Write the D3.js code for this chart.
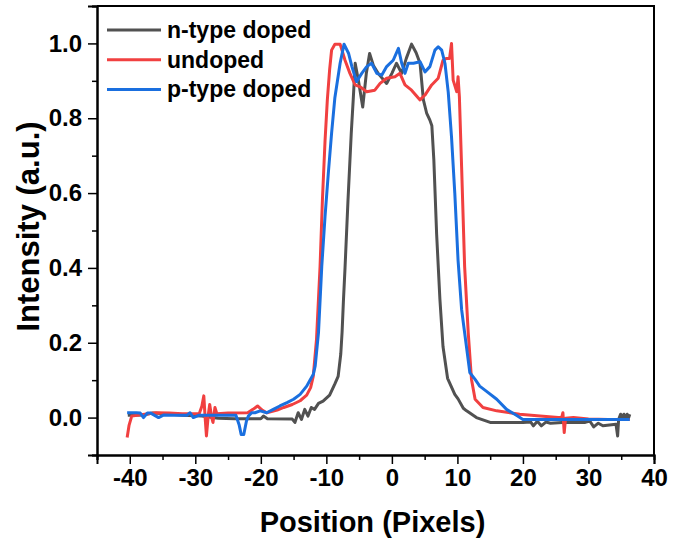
<!DOCTYPE html>
<html>
<head>
<meta charset="utf-8">
<script src="https://cdn.jsdelivr.net/npm/d3@7"></script>
<style>
  body { margin: 0; background: #fff; }
  text { font-family: "Liberation Sans", Arial, sans-serif; font-weight: bold; }
</style>
</head>
<body>
<svg id="chart" width="686" height="544"></svg>
<script>
// Line profiles: [position, intensity]
const nType = [
  [-40.3, 0.006], [-38, 0.007], [-36.5, 0.012], [-34.5, 0.01], [-32, 0.006], [-29, 0.004],
  [-26.5, -0.002], [-24, -0.003], [-20, -0.003], [-19.6, 0.004], [-19, -0.003], [-15.2, -0.004],
  [-14.8, -0.013], [-14.3, 0.013], [-13.8, -0.005], [-13.3, 0.022], [-12.8, 0.004], [-12.3, 0.027],
  [-11.8, 0.022], [-11.2, 0.038], [-10.5, 0.044], [-9.5, 0.06], [-8.7, 0.09], [-8.2, 0.11],
  [-7.8, 0.17], [-7.6, 0.228], [-7.4, 0.31], [-7.15, 0.40], [-6.7, 0.58], [-6.2, 0.76], [-5.9, 0.85],
  [-5.6, 0.947], [-5.1, 0.90], [-4.45, 0.83], [-3.9, 0.92], [-3.4, 0.973], [-2.8, 0.94], [-2.1, 0.92],
  [-0.8, 0.893], [0.0, 0.92], [0.7, 0.947], [1.5, 0.92], [2.2, 0.96], [3.0, 0.998], [3.7, 0.975],
  [4.3, 0.947], [4.8, 0.85], [5.3, 0.814], [5.8, 0.795], [6.1, 0.78], [6.4, 0.69], [6.83, 0.49],
  [7.33, 0.316], [7.8, 0.19], [8.5, 0.105], [9.6, 0.062], [10.1, 0.05], [10.9, 0.025], [11.4, 0.018],
  [12.9, 0.0], [15, -0.013], [20, -0.013], [21.2, -0.012], [21.6, -0.022], [22.2, -0.01], [22.8, -0.022],
  [23.5, -0.012], [24.2, -0.015], [26, -0.013], [29.5, -0.013], [30.2, -0.009], [30.8, -0.025],
  [31.5, -0.015], [32.2, -0.022], [34.2, -0.018], [34.45, -0.049], [34.6, -0.005], [34.9, 0.009],
  [35.1, -0.002], [35.4, 0.009], [35.6, -0.002], [35.9, 0.009], [36.1, -0.002], [36.3, 0.009]
];
const undoped = [
  [-40.4, -0.053], [-40.1, -0.02], [-39.7, 0.004], [-38, 0.008], [-36, 0.013], [-34, 0.012],
  [-32, 0.01], [-29.4, 0.01], [-29, 0.03], [-28.7, 0.058], [-28.5, 0.0], [-28.3, -0.049], [-28.0, 0.01],
  [-27.8, 0.035], [-27.5, 0.0], [-27.3, -0.013], [-27.0, 0.027], [-26.7, 0.01], [-25, 0.012],
  [-22, 0.013], [-21.2, 0.022], [-20.5, 0.031], [-19.8, 0.02], [-19.1, 0.013], [-17.5, 0.02],
  [-16.5, 0.027], [-15.2, 0.035], [-14, 0.045], [-13, 0.06], [-12.4, 0.08], [-12, 0.11], [-11.5, 0.21],
  [-10.96, 0.404], [-10.6, 0.582], [-10.2, 0.74], [-9.85, 0.849], [-9.5, 0.93], [-9.2, 0.982],
  [-8.7, 0.998], [-7.9, 0.998], [-7.15, 0.955], [-6.4, 0.92], [-5.6, 0.889], [-4.86, 0.884],
  [-3.84, 0.871], [-2.6, 0.875], [-1.8, 0.893], [-0.8, 0.907], [0.47, 0.911], [1.23, 0.92],
  [2.0, 0.889], [3.0, 0.875], [4.3, 0.849], [5.05, 0.862], [6.07, 0.889], [7.07, 0.907], [7.8, 0.955],
  [8.35, 0.96], [8.8, 0.96], [9.1, 1.0], [9.35, 0.902], [9.9, 0.871], [10.1, 0.911], [10.3, 0.858],
  [10.64, 0.67], [11.1, 0.404], [11.65, 0.227], [12.15, 0.102], [12.7, 0.049], [13.9, 0.027],
  [16, 0.018], [19.5, 0.009], [22.6, 0.004], [25.4, 0.0], [25.9, 0.0], [26.1, 0.013], [26.3, -0.04],
  [26.5, -0.002], [27.7, 0.0], [30, -0.004], [33, -0.005], [36.3, -0.005]
];
const pType = [
  [-40.4, 0.013], [-39, 0.013], [-38.4, 0.012], [-37.9, 0.0], [-37.3, 0.012], [-36.8, 0.012],
  [-35.6, 0.0], [-34.8, 0.007], [-33, 0.006], [-31.3, 0.006], [-30.8, 0.013], [-30.3, 0.0],
  [-29.5, 0.006], [-26, 0.006], [-23.8, 0.006], [-23.3, -0.02], [-23.0, -0.045], [-22.6, -0.045],
  [-22.2, -0.01], [-21.9, 0.004], [-21.4, 0.013], [-20.9, 0.013], [-20.1, 0.018], [-19.1, 0.013],
  [-18.1, 0.022], [-17.1, 0.031], [-16.0, 0.04], [-15.0, 0.049], [-14, 0.062], [-13, 0.084],
  [-12.5, 0.1], [-12.0, 0.115], [-11.7, 0.138], [-11.2, 0.227], [-10.7, 0.404], [-10.2, 0.538],
  [-9.7, 0.653], [-9.2, 0.76], [-8.7, 0.855], [-7.9, 0.947], [-7.3, 0.998], [-6.6, 0.973],
  [-6.1, 0.938], [-5.4, 0.898], [-4.6, 0.92], [-3.84, 0.938], [-3.1, 0.947], [-2.3, 0.92],
  [-1.55, 0.915], [-0.8, 0.938], [0.2, 0.955], [1.0, 0.987], [1.5, 0.947], [2.0, 0.92], [2.5, 0.947],
  [3.3, 0.947], [4.3, 0.951], [5.05, 0.924], [5.8, 0.938], [6.57, 0.982], [7.07, 0.991], [7.6, 0.982],
  [8.1, 0.947], [8.6, 0.87], [9.1, 0.75], [9.6, 0.6], [10.1, 0.42], [10.64, 0.289], [11.1, 0.227],
  [11.9, 0.12], [12.7, 0.102], [13.4, 0.084], [14.45, 0.07], [16, 0.049], [17.5, 0.022], [19, 0.006],
  [20, -0.005], [28, -0.005], [36.3, -0.005]
];

const seriesNames = ["n-type doped", "undoped", "p-type doped"];
const seriesColors = ["#515151", "#F14040", "#1A6FDF"];
const xTicks = [-40, -30, -20, -10, 0, 10, 20, 30, 40];
const yTicks = [0.0, 0.2, 0.4, 0.6, 0.8, 1.0];

const margin = {top: 6, right: 32, bottom: 89, left: 97};
const svg = d3.select("#chart");
const W = +svg.attr("width") - margin.left - margin.right;
const H = +svg.attr("height") - margin.top - margin.bottom;

const x = d3.scaleLinear().domain([-45, 40]).range([0, W]);
const y = d3.scaleLinear().domain([-0.1, 1.1]).range([H, 0]);

const g = svg.append("g").attr("transform", `translate(${margin.left},${margin.top})`);

g.append("clipPath").attr("id", "clip")
  .append("rect").attr("width", W).attr("height", H);

// Curves
const line = d3.line().x(d => x(d[0])).y(d => y(d[1]));
[nType, undoped, pType].forEach((s, i) => {
  g.append("path")
    .datum(s)
    .attr("clip-path", "url(#clip)")
    .attr("fill", "none")
    .attr("stroke", seriesColors[i])
    .attr("stroke-width", 3)
    .attr("stroke-linejoin", "round")
    .attr("d", line);
});

// Axes: major ticks with labels, minor ticks between
const minorX = d3.range(-45, 41, 5).filter(v => !xTicks.includes(v));
const minorY = d3.range(-1, 12).map(v => v / 10).filter(v => !yTicks.some(t => Math.abs(t - v) < 1e-9));

const xAxis = g.append("g").attr("transform", `translate(0,${H})`)
  .call(d3.axisBottom(x).tickValues(xTicks).tickSize(9).tickPadding(5).tickFormat(d3.format("d")));
g.append("g").attr("transform", `translate(0,${H})`)
  .call(d3.axisBottom(x).tickValues(minorX).tickSize(5).tickFormat(""));

const yAxis = g.append("g")
  .call(d3.axisLeft(y).tickValues(yTicks).tickSize(9).tickPadding(6).tickFormat(d3.format(".1f")));
g.append("g")
  .call(d3.axisLeft(y).tickValues(minorY).tickSize(5).tickFormat(""));

g.selectAll(".domain").attr("stroke", "#000").attr("stroke-width", 2);
g.selectAll(".tick line").attr("stroke", "#000").attr("stroke-width", 1.5);
xAxis.selectAll("text").attr("font-size", 24).attr("fill", "#000").text(d => d < 0 ? "-" + Math.abs(d) : d);
yAxis.selectAll("text").attr("font-size", 24).attr("fill", "#000");

// Top and right frame
g.append("path")
  .attr("d", `M0,0H${W}V${H}`)
  .attr("fill", "none").attr("stroke", "#000").attr("stroke-width", 2);

// Axis titles
svg.append("text")
  .attr("x", margin.left + W / 2 - 3).attr("y", 532)
  .attr("text-anchor", "middle").attr("font-size", 29)
  .text("Position (Pixels)");
svg.append("text")
  .attr("transform", `translate(39,${margin.top + H / 2 - 4}) rotate(-90)`)
  .attr("text-anchor", "middle").attr("font-size", 31)
  .text("Intensity (a.u.)");

// Legend
const legend = svg.append("g");
seriesNames.forEach((name, i) => {
  const ly = 30 + i * 29.7;
  legend.append("line")
    .attr("x1", 107).attr("x2", 161).attr("y1", ly).attr("y2", ly)
    .attr("stroke", seriesColors[i]).attr("stroke-width", 3);
  legend.append("text")
    .attr("x", 167).attr("y", ly + 8)
    .attr("font-size", 23).attr("fill", "#000")
    .text(name);
});
</script>
</body>
</html>
